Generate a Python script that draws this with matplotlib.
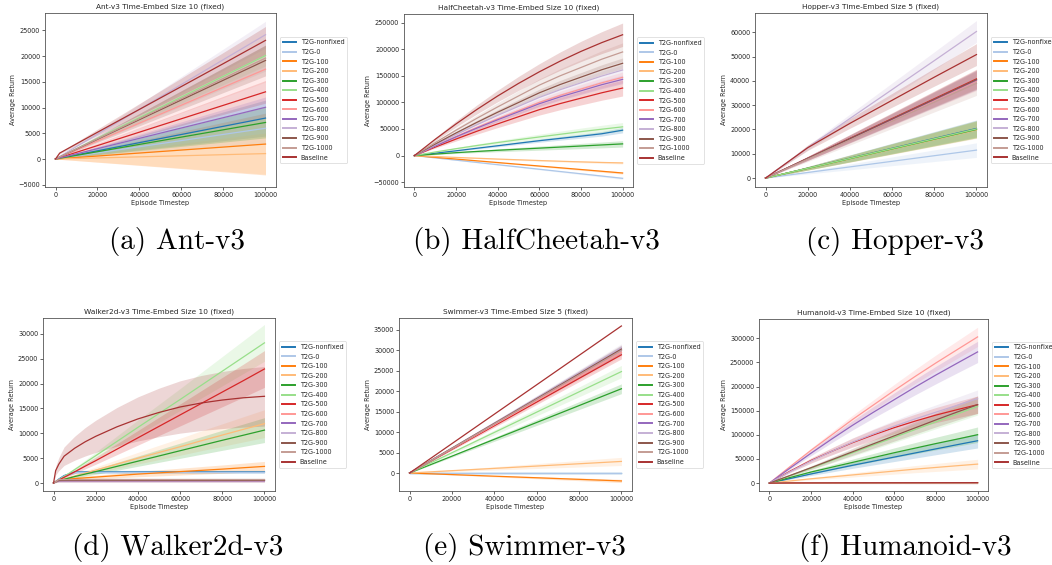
import numpy as np
import matplotlib
matplotlib.use("Agg")
import matplotlib.pyplot as plt
from matplotlib.lines import Line2D
from matplotlib.ticker import MultipleLocator

# ---------------- data ----------------
SERIES = ["T2G-nonfixed", "T2G-0", "T2G-100", "T2G-200", "T2G-300", "T2G-400",
          "T2G-500", "T2G-600", "T2G-700", "T2G-800", "T2G-900", "T2G-1000", "Baseline"]
COLORS = ["#1f77b4", "#aec7e8", "#ff7f0e", "#ffbb78", "#2ca02c", "#98df8a",
          "#d62728", "#ff9896", "#9467bd", "#c5b0d5", "#8c564b", "#c49c94", "#a83232"]

ANT_X = [0, 2000, 20000, 40000, 60000, 80000, 100000]
ANT_MEAN = [
    [0, 160, 1590, 3180, 4770, 6360, 7950],
    [0, 120, 1190, 2390, 3580, 4780, 5970],
    [0, 60, 580, 1160, 1740, 2320, 2900],
    [0, 20, 210, 420, 630, 840, 1050],
    [0, 140, 1420, 2840, 4260, 5680, 7100],
    [0, 400, 4020, 8040, 12060, 16080, 20100],
    [0, 260, 2610, 5220, 7830, 10440, 13050],
    [0, 350, 3490, 6980, 10470, 13960, 17450],
    [0, 200, 2010, 4020, 6030, 8040, 10050],
    [0, 480, 4830, 9660, 14490, 19320, 24150],
    [0, 380, 3830, 7660, 11490, 15320, 19150],
    [0, 390, 3920, 7840, 11760, 15680, 19600],
    [0, 1150, 5200, 9650, 14100, 18550, 23050],
]
ANT_BAND = [3500, 3000, 6000, 4000, 3000, 2000, 2200, 2500, 2000, 2600, 3000, 2500, 2700]

CHEETAH_X = [0, 10000, 20000, 30000, 40000, 50000, 60000, 70000, 80000, 90000, 100000]
CHEETAH_MEAN = [
    [0, 4500, 9000, 13800, 18500, 23300, 28000, 32300, 36500, 41000, 47700],
    [0, -4270, -8540, -12810, -17080, -21350, -25620, -29890, -34160, -38430, -42700],
    [0, -3270, -6540, -9810, -13080, -16350, -19620, -22890, -26160, -29430, -32700],
    [0, -1800, -3500, -5000, -6500, -7900, -9300, -10600, -11800, -12900, -13800],
    [0, 2800, 5500, 7800, 10000, 12000, 14000, 16000, 18000, 20000, 22000],
    [0, 6800, 13000, 18900, 24500, 29900, 35000, 40000, 45000, 49600, 54000],
    [0, 15900, 31100, 45700, 59600, 73000, 86300, 97700, 107900, 118000, 126900],
    [0, 18400, 36000, 52900, 69100, 84500, 100000, 113200, 125000, 136700, 147000],
    [0, 17900, 35100, 51600, 67300, 82300, 97400, 110300, 121700, 133200, 143200],
    [0, 20100, 39400, 57900, 75600, 92500, 109300, 123800, 136700, 149500, 160800],
    [0, 21700, 42500, 62400, 81500, 99700, 117900, 133500, 147400, 161300, 173400],
    [0, 24300, 47700, 70100, 91500, 112000, 132400, 149900, 165500, 181100, 194700],
    [0, 30650, 59530, 86640, 111990, 135580, 157390, 177440, 195730, 212250, 227000],
]
CHEETAH_BAND = [5000, 2000, 2000, 2000, 6000, 8000, 15000, 10000, 8000, 10000, 10000, 17000, 22000]

HOPPER_X = [0, 20000, 40000, 60000, 80000, 100000]
HOPPER_MEAN = [
    [0, 4080, 8160, 12240, 16320, 20400],
    [0, 2300, 4600, 6900, 9200, 11500],
    [0, 4020, 8040, 12060, 16080, 20100],
    [0, 3960, 7920, 11880, 15840, 19800],
    [0, 4000, 8000, 12000, 16000, 20000],
    [0, 4040, 8080, 12120, 16160, 20200],
    [0, 8160, 16320, 24480, 32640, 40800],
    [0, 8000, 16000, 24000, 32000, 40000],
    [0, 8060, 16120, 24180, 32240, 40300],
    [0, 12500, 24500, 36400, 48300, 60300],
    [0, 8100, 16200, 24300, 32400, 40500],
    [0, 7800, 15600, 23400, 31200, 39000],
    [0, 12500, 22500, 32000, 41500, 50800],
]
HOPPER_BAND = [3500, 3000, 3500, 3500, 3500, 3500, 4000, 4000, 4000, 4500, 4000, 5000, 4500]

WALKER_X = [0, 1000, 2500, 5000, 10000, 15000, 20000, 30000, 40000, 50000,
            60000, 70000, 80000, 90000, 100000]
WALKER_MEAN = [
    [0, 300, 800, 1500, 2200, 2250, 2250, 2250, 2250, 2250, 2250, 2250, 2250, 2250, 2250],
    [0, 300, 700, 1400, 2100, 2150, 2150, 2150, 2150, 2150, 2150, 2150, 2150, 2150, 2150],
    [0, 300, 600, 700, 900, 1050, 1200, 1500, 1800, 2050, 2300, 2550, 2800, 3080, 3350],
    [0, 250, 500, 800, 1400, 2000, 2600, 3800, 5000, 6150, 7300, 8500, 9650, 10800, 11950],
    [0, 250, 500, 750, 1300, 1800, 2300, 3350, 4400, 5450, 6500, 7550, 8600, 9620, 10650],
    [0, 250, 600, 1300, 2700, 4100, 5500, 8350, 11200, 14000, 16800, 19650, 22500, 25350, 28200],
    [0, 250, 600, 1150, 2250, 3400, 4500, 6800, 9100, 11400, 13700, 16000, 18300, 20600, 22950],
    [0, 250, 500, 500, 500, 500, 500, 500, 500, 500, 500, 500, 500, 500, 500],
    [0, 250, 450, 450, 450, 450, 450, 450, 450, 450, 450, 450, 450, 450, 450],
    [0, 250, 600, 600, 600, 600, 600, 600, 600, 600, 600, 600, 600, 600, 600],
    [0, 250, 550, 550, 550, 550, 550, 550, 550, 550, 550, 550, 550, 550, 550],
    [0, 250, 700, 700, 700, 700, 700, 700, 700, 700, 700, 700, 700, 700, 700],
    [0, 2500, 3800, 5400, 7000, 8300, 9400, 11300, 12900, 14200, 15300, 16100, 16700, 17150, 17450],
]
WALKER_BAND = [300, 200, 1000, 2800, 2500, 3700, 3700, 300, 300, 300, 300, 300, 6000]

SWIMMER_X = [0, 20000, 40000, 60000, 80000, 100000]
SWIMMER_MEAN = [
    [0, 0, 0, 0, 0, 0],
    [0, 0, 0, 0, 0, 0],
    [0, -390, -780, -1160, -1550, -1940],
    [0, 570, 1130, 1700, 2260, 2830],
    [0, 4120, 8240, 12360, 16480, 20600],
    [0, 4960, 9920, 14880, 19840, 24800],
    [0, 5780, 11560, 17340, 23120, 28900],
    [0, 5900, 11800, 17700, 23600, 29500],
    [0, 6020, 12040, 18060, 24080, 30100],
    [0, 6120, 12240, 18360, 24480, 30600],
    [0, 6060, 12120, 18180, 24240, 30300],
    [0, 6000, 12000, 18000, 24000, 30000],
    [0, 7190, 14380, 21570, 28760, 35950],
]
SWIMMER_BAND = [0, 0, 400, 1000, 1200, 1500, 1000, 1000, 1000, 1000, 1000, 1000, 0]

HUMANOID_X = [0, 10000, 20000, 30000, 40000, 50000, 60000, 70000, 80000, 90000, 100000]
HUMANOID_MEAN = [
    [0, 9600, 19000, 28000, 37000, 45500, 54000, 62500, 71000, 79500, 87800],
    [0, 200, 300, 400, 500, 550, 600, 650, 700, 750, 800],
    [0, 250, 400, 500, 600, 650, 700, 750, 800, 850, 900],
    [0, 4600, 9000, 13000, 17000, 21000, 25000, 29000, 32500, 36000, 39400],
    [0, 11700, 23000, 33000, 43000, 53000, 63000, 72500, 82000, 91000, 100300],
    [0, 15500, 31000, 47000, 63000, 79000, 95000, 111000, 127000, 143000, 159000],
    [0, 25000, 47000, 66000, 84000, 100000, 115000, 128500, 141000, 152000, 162500],
    [0, 34500, 68000, 100000, 132000, 162000, 192000, 221000, 249000, 276000, 302900],
    [0, 31500, 62000, 91500, 120000, 147000, 173000, 199000, 224000, 248000, 271800],
    [0, 24000, 46000, 66000, 85000, 102000, 118000, 133000, 147000, 161000, 175000],
    [0, 16000, 32000, 48500, 65000, 81500, 98000, 114500, 131000, 147000, 162500],
    [0, 200, 300, 400, 500, 550, 600, 650, 700, 750, 800],
    [0, 400, 500, 600, 700, 750, 800, 850, 900, 950, 1000],
]
HUMANOID_BAND = [15000, 500, 500, 10000, 16000, 18000, 18000, 20000, 22000, 18000, 18000, 1500, 2500]

TITLES = ["Ant-v3 Time-Embed Size 10 (fixed)", "HalfCheetah-v3 Time-Embed Size 10 (fixed)",
          "Hopper-v3 Time-Embed Size 5 (fixed)", "Walker2d-v3 Time-Embed Size 10 (fixed)",
          "Swimmer-v3 Time-Embed Size 5 (fixed)", "Humanoid-v3 Time-Embed Size 10 (fixed)"]
CAPTIONS = ["(a) Ant-v3", "(b) HalfCheetah-v3", "(c) Hopper-v3",
            "(d) Walker2d-v3", "(e) Swimmer-v3", "(f) Humanoid-v3"]

# ---------------- drawing ----------------
W, H = 1052, 565
fig = plt.figure(figsize=(W / 100, H / 100), dpi=100)

FS = 4.7
TXT = "#262626"


def rect(l, t, r, b):
    return [l / W, 1 - b / H, (r - l) / W, (b - t) / H]


def panel(box, title, xs, means, bands, ylim, ystep):
    ax = fig.add_axes(box)
    x = np.array(xs, float)
    for name, col, m, hw in zip(SERIES, COLORS, means, bands):
        m = np.array(m, float)
        end = abs(m[-1])
        b = hw * np.abs(m) / end if end > 0 else np.full_like(m, hw)
        ax.fill_between(x, m - b, m + b, color=col, alpha=0.2, lw=0)
        ax.plot(x, m, color=col, lw=0.9)
    ax.set_xlim(-5000, 105000)
    ax.set_ylim(*ylim)
    ax.xaxis.set_major_locator(MultipleLocator(20000))
    ax.yaxis.set_major_locator(MultipleLocator(ystep))
    ax.tick_params(labelsize=FS, length=2, width=0.5, pad=1.5, colors=TXT)
    for s in ax.spines.values():
        s.set_linewidth(0.6)
        s.set_color("#555555")
    ax.set_title(title, fontsize=5.3, pad=3, color=TXT)
    ax.set_xlabel("Episode Timestep", fontsize=FS, labelpad=1.5, color=TXT)
    ax.set_ylabel("Average Return", fontsize=FS, labelpad=2, color=TXT)
    handles = [Line2D([], [], color=c, lw=1.4) for c in COLORS]
    leg = ax.legend(handles, SERIES, loc="center left", bbox_to_anchor=(1.0, 0.5),
                    fontsize=FS, frameon=True, handlelength=2.0, borderaxespad=0.6,
                    labelspacing=0.55)
    leg.get_frame().set_linewidth(0.5)
    for t in leg.get_texts():
        t.set_color(TXT)
    return ax


panel(rect(45, 13, 276, 187), TITLES[0], ANT_X, ANT_MEAN, ANT_BAND, (-5440, 28370), 5000)
panel(rect(404, 14, 633, 187), TITLES[1], CHEETAH_X, CHEETAH_MEAN, CHEETAH_BAND, (-59000, 266000), 50000)
panel(rect(755, 13, 987, 187), TITLES[2], HOPPER_X, HOPPER_MEAN, HOPPER_BAND, (-3670, 67900), 10000)
panel(rect(43, 318, 275, 491), TITLES[3], WALKER_X, WALKER_MEAN, WALKER_BAND, (-1600, 33200), 5000)
panel(rect(399, 318, 632, 491), TITLES[4], SWIMMER_X, SWIMMER_MEAN, SWIMMER_BAND, (-4400, 37900), 5000)
panel(rect(759, 319, 988, 491), TITLES[5], HUMANOID_X, HUMANOID_MEAN, HUMANOID_BAND, (-16300, 340000), 50000)

cap_pos = [(177, 242), (536, 242), (895, 242), (178, 548), (524, 548), (905, 548)]
for (cx, cy), txt in zip(cap_pos, CAPTIONS):
    fig.text(cx / W, 1 - cy / H, txt, ha="center", va="center", fontsize=21,
             family="cmr10", color="black")

fig.savefig("out.png", dpi=100)
